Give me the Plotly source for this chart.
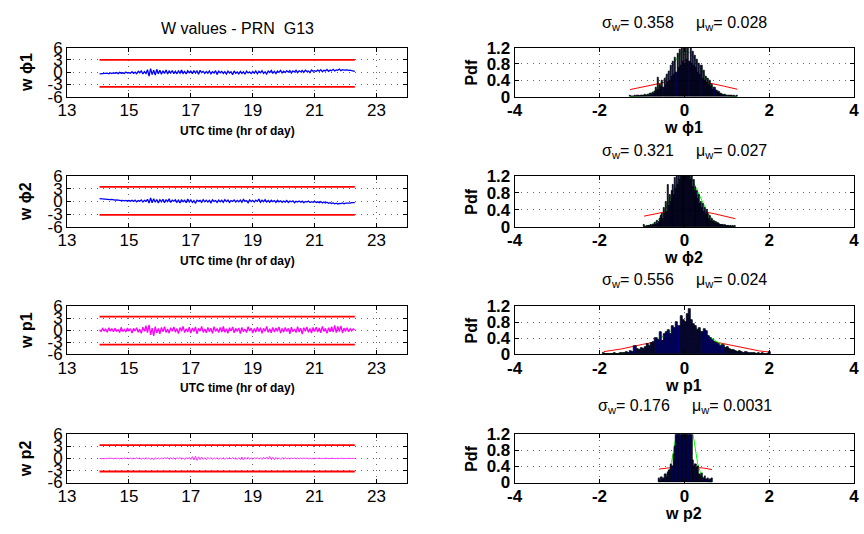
import numpy as np
import plotly.graph_objects as go

W, H = 864, 534

# ---------------- data ----------------
t_start, t_end = 14.05, 22.3   # UTC hour span of the series

w_phi1 = [-0.40,-0.35,-0.45,-0.30,-0.38,-0.25,-0.40,-0.20,-0.35,-0.15,
          -0.30,-0.10,-0.35,-0.05,-0.25,-0.15,-0.30,0.05,-0.20,-0.10,
          -0.25,0.10,-0.30,0.00,-0.40,0.20,-0.15,0.30,-0.45,0.15,
          -0.30,0.60,-0.95,0.85,-0.60,0.50,-0.70,0.70,-0.40,0.45,
          -0.50,0.35,-0.30,0.55,-0.45,0.30,-0.20,0.40,-0.35,0.25,
          -0.40,0.30,-0.25,0.50,-0.30,0.20,-0.45,0.35,-0.15,0.25,
          -0.35,0.40,-0.20,0.30,-0.50,0.45,-0.10,0.20,-0.30,0.15,
          -0.25,0.30,-0.40,0.10,-0.20,0.35,-0.55,0.25,-0.15,0.20,
          -0.30,0.15,-0.45,0.25,-0.20,0.10,-0.60,0.30,-0.25,0.05,
          -0.40,0.20,-0.30,0.10,-0.50,0.25,-0.20,0.05,-0.35,0.15,
          -0.25,0.30,-0.40,0.20,-0.15,0.35,-0.30,0.10,-0.45,0.25,
          -0.10,0.40,-0.25,0.20,-0.35,0.30,-0.05,0.45,-0.20,0.25,
          -0.10,0.35,0.00,0.40,-0.20,0.30,0.05,0.45,-0.10,0.35,
          0.10,0.40,-0.05,0.50,0.15,0.30,-0.10,0.55,0.20,0.35,
          0.15,0.50,0.25,0.60,0.10,0.45,0.30,0.65,0.20,0.50,
          0.35,0.70,0.30,0.55,0.45,0.75,0.35,0.60,0.50,0.55,
          0.55,0.45,0.50,0.35,0.30,0.20]

w_phi2 = [0.65,0.60,0.55,0.60,0.50,0.45,0.50,0.40,0.45,0.35,
          0.30,0.35,0.25,0.30,0.20,0.25,0.15,0.25,0.10,0.20,
          0.05,0.25,0.00,0.30,-0.10,0.20,0.05,0.35,-0.15,0.25,
          0.00,0.50,-0.40,0.80,-0.30,0.60,-0.20,0.45,-0.35,0.40,
          -0.10,0.50,-0.30,0.35,-0.05,0.60,-0.25,0.30,0.05,0.40,
          -0.20,0.30,-0.35,0.45,-0.10,0.25,-0.30,0.55,-0.15,0.35,
          -0.25,0.20,-0.45,0.30,0.05,0.25,-0.20,0.40,-0.10,0.30,
          -0.15,0.25,-0.30,0.35,0.00,0.20,-0.25,0.30,-0.10,0.25,
          -0.20,0.40,-0.05,0.30,-0.25,0.20,0.00,0.35,-0.15,0.25,
          -0.10,0.30,-0.20,0.45,0.00,0.20,-0.30,0.35,-0.05,0.25,
          -0.15,0.30,0.00,0.55,-0.20,0.25,-0.10,0.40,-0.15,0.20,
          -0.20,0.30,-0.05,0.20,-0.25,0.25,-0.10,0.15,-0.20,0.10,
          -0.15,0.20,-0.25,0.10,-0.10,0.15,-0.30,0.05,-0.15,0.10,
          -0.20,0.05,-0.30,0.00,-0.15,0.10,-0.25,-0.05,-0.20,0.00,
          -0.25,-0.10,-0.30,-0.05,-0.35,-0.15,-0.40,-0.20,-0.45,-0.30,
          -0.50,-0.35,-0.55,-0.40,-0.60,-0.45,-0.50,-0.35,-0.55,-0.40,
          -0.45,-0.35,-0.40,-0.30,-0.35,-0.30]

w_p1 = [0.10,-0.30,0.40,-0.20,0.25,-0.50,0.60,-0.10,0.30,-0.40,
        0.50,-0.25,0.15,-0.60,0.70,-0.35,0.20,-0.45,0.55,-0.15,
        0.35,-0.70,0.45,-0.20,0.60,-0.50,0.25,-0.80,0.75,-0.30,
        1.10,-0.60,1.30,-1.20,0.50,-1.40,0.90,-0.70,0.40,-0.90,
        0.70,-0.40,0.85,-0.55,0.30,-0.75,0.60,-0.25,0.80,-0.50,
        0.40,-0.85,0.65,-0.30,0.90,-0.60,0.35,-0.45,0.75,-0.70,
        0.55,-0.35,0.80,-0.90,0.45,-0.25,0.95,-0.55,0.30,-0.65,
        0.70,-0.40,0.50,-0.80,0.85,-0.30,0.40,-0.60,0.65,-0.45,
        0.90,-0.55,0.35,-0.75,0.60,-0.20,0.80,-0.65,0.45,-0.35,
        0.55,-0.85,0.70,-0.40,0.30,-0.60,0.85,-0.25,0.50,-0.70,
        0.40,-0.50,0.75,-0.35,0.60,-0.80,0.45,-0.30,0.90,-0.55,
        0.35,-0.65,0.70,-0.45,0.55,-0.30,0.80,-0.75,0.40,-0.50,
        0.65,-0.35,0.45,-0.90,0.75,-0.40,0.30,-0.60,0.85,-0.45,
        0.50,-1.00,0.60,-0.30,0.80,-0.55,0.40,-0.70,0.65,-0.35,
        0.75,-0.45,0.55,-0.65,0.90,-0.30,0.45,-0.80,0.60,-0.40,
        0.85,-0.50,1.20,-0.60,0.95,-0.35,1.05,-0.70,0.50,-0.30,
        0.60,-0.40,0.35,-0.20,0.30,0.10]

w_p2 = [0.00,-0.05,0.05,-0.08,0.04,-0.06,0.08,-0.04,0.06,-0.10,
        0.08,-0.06,0.10,-0.12,0.05,-0.08,0.12,-0.05,0.08,-0.10,
        0.10,-0.15,0.06,-0.12,0.15,-0.08,0.12,-0.20,0.10,-0.15,
        0.18,-0.12,0.15,-0.25,0.10,-0.35,0.20,-0.15,0.12,-0.20,
        0.15,-0.18,0.20,-0.10,0.25,-0.22,0.12,-0.15,0.18,-0.25,
        0.20,-0.15,0.25,-0.20,0.15,-0.28,0.22,-0.18,0.30,-0.25,
        0.45,-0.40,0.55,-0.50,0.40,-0.30,0.35,-0.25,0.20,-0.30,
        0.25,-0.15,0.20,-0.22,0.15,-0.12,0.18,-0.20,0.12,-0.15,
        0.15,-0.20,0.10,-0.12,0.18,-0.15,0.22,-0.18,0.12,-0.25,
        0.20,-0.30,0.35,-0.40,0.25,-0.20,0.30,-0.25,0.15,-0.20,
        0.20,-0.15,0.25,-0.20,0.18,-0.25,0.30,-0.15,0.35,-0.20,
        0.50,-0.30,0.30,-0.35,0.25,-0.20,0.15,-0.18,0.20,-0.12,
        0.15,-0.10,0.12,-0.15,0.10,-0.08,0.12,-0.10,0.08,-0.12,
        0.10,-0.08,0.12,-0.06,0.10,-0.12,0.08,-0.10,0.06,-0.08,
        0.06,-0.05,0.08,-0.06,0.05,-0.08,0.06,-0.04,0.05,-0.06,
        0.05,-0.04,0.06,-0.05,0.04,-0.06,0.05,-0.04,0.03,-0.05,
        0.04,-0.03,0.03,-0.02,0.02,0.00]

# threshold lines drawn on the time series panels
thr_upper = [3.0, 3.4, 3.35, 3.33]
thr_lower = [-3.6, -3.17, -3.58, -3.26]

# histogram (pdf) heights, bins spread evenly over [lo, hi]
pdf_phi1 = [0.04,0,0,0,0,0.02,0,0.03,0.02,0,0.03,0.04,0.02,0.03,0.05,0.04,0.03,0.06,0.04,0.08,
            0.05,0.10,0.08,0.12,0.22,0.15,0.46,0.18,0.30,0.25,
            0.40,0.22,0.45,0.30,0.55,0.35,0.62,0.40,0.75,0.50,
            0.85,0.55,0.95,0.60,1.05,0.70,1.15,0.75,1.20,0.85,
            1.25,0.80,1.25,0.90,1.20,0.85,1.25,0.80,1.10,0.75,
            1.00,0.70,0.90,0.60,0.80,0.55,0.75,0.45,0.65,0.40,
            0.50,0.35,0.45,0.30,0.40,0.25,0.30,0.18,0.22,0.15,
            0.15,0.10,0.12,0.08,0.08,0.05,0.06,0.04,0.05,0.03,
            0.03,0.02,0.04,0.02,0.03,0,0.02,0,0.01,0.04]
pdf_phi2 = [0.04,0,0,0.02,0,0.03,0.02,0.03,0.04,0.03,
            0.06,0.04,0.10,0.05,0.15,0.08,0.12,0.20,0.10,0.25,
            0.30,0.20,0.45,0.30,0.60,0.35,1.00,0.50,0.75,0.60,
            0.85,0.65,1.00,0.75,1.15,0.90,1.30,1.00,1.35,1.10,
            1.40,1.20,1.45,1.25,1.50,1.30,1.45,1.25,1.40,1.20,
            1.35,1.10,1.25,0.95,1.10,0.85,0.95,0.75,0.85,0.65,
            0.75,0.55,0.60,0.45,0.55,0.35,0.45,0.30,0.40,0.25,
            0.30,0.20,0.25,0.15,0.20,0.12,0.15,0.10,0.12,0.08,
            0.10,0.06,0.08,0.05,0.06,0.04,0.05,0.03,0.04,0.03,
            0.03,0.02,0.03,0,0.02,0.03,0,0.02,0,0.03]
pdf_p1 = [0.04,0,0,0,0,0.02,0,0,0.03,0.02,
          0.03,0.05,0.04,0.08,0.06,0.20,0.12,0.10,0.15,0.12,
          0.18,0.25,0.20,0.28,0.30,0.40,0.35,0.55,0.32,0.50,
          0.55,0.60,0.50,0.70,0.65,0.80,0.70,0.95,0.85,0.80,
          1.00,1.12,0.85,0.75,0.70,0.60,0.65,0.55,0.62,0.58,
          0.45,0.40,0.35,0.30,0.28,0.25,0.20,0.22,0.15,0.18,
          0.12,0.10,0.10,0.08,0.06,0.07,0.05,0.04,0.05,0.03,
          0.03,0.02,0.03,0,0.02,0,0.02,0,0,0.05]
pdf_p2 = [0.10,0.05,0.12,0.08,0.10,0.20,0.12,0.25,0.30,0.45,
          0.40,0.70,0.90,1.30,1.60,2.00,2.20,2.40,2.50,2.60,
          2.50,2.30,2.00,1.50,1.25,0.55,0.40,0.45,0.35,0.40,
          0.20,0.15,0.22,0.10,0.15,0.08,0.10,0.05,0.08,0.10]
hist_lo = [-1.28, -0.95, -1.9, -0.6]
hist_hi = [1.25, 1.2, 2.0, 0.65]

sigma_w = [0.358, 0.321, 0.556, 0.176]
mu_w = [0.028, 0.027, 0.024, 0.0031]
sigma_txt = ['0.358', '0.321', '0.556', '0.176']
mu_txt = ['0.028', '0.027', '0.024', '0.0031']

names = ['w \u03d51', 'w \u03d52', 'w p1', 'w p2']
series = [w_phi1, w_phi2, w_p1, w_p2]
pdfs = [pdf_phi1, pdf_phi2, pdf_p1, pdf_p2]
series_color = ['#0000ff', '#0000ff', '#ff00ff', '#ff33ff']
series_width = [1.3, 1.3, 1.3, 1.0]

time_ticks = [13, 15, 17, 19, 21, 23]
w_ticks = [-6, -3, 0, 3, 6]
pdf_xticks = [-4, -2, 0, 2, 4]
pdf_yticks = [0, 0.4, 0.8, 1.2]

# ---------------- layout geometry (pixels) ----------------
rows_px = [(40, 91), (173, 226), (308, 358), (441, 491)]
left_px = (59, 405)
right_px = (514, 859)
title_y_px = [15, 148, 281, 412]

FONT = 'Liberation Sans, Arial, Helvetica, sans-serif'

def fx(px):
    return px / W

def fy(py):
    return 1 - py / H

def lab(v):
    return '%g' % v

fig = go.Figure()
layout = dict(width=W, height=H, margin=dict(l=0, r=0, t=0, b=0),
              paper_bgcolor='white', plot_bgcolor='white', showlegend=False,
              font=dict(family=FONT, size=16, color='black'), bargap=0)
annotations = []

grid_common = dict(showgrid=True, gridcolor='#666666', griddash='1px,5px', gridwidth=1,
                   showline=True, linecolor='black', linewidth=1, mirror='ticks',
                   ticks='inside', ticklen=4, tickcolor='black', zeroline=False,
                   ticklabeloverflow='allow')

for r in range(4):
    top, bot = rows_px[r]
    ydom = [fy(bot), fy(top)]
    # ---- left: time series ----
    li = 1 + r
    xs = '' if li == 1 else str(li)
    t = np.linspace(t_start, t_end, len(series[r]))
    fig.add_trace(go.Scatter(x=[t_start, t_end], y=[thr_upper[r]] * 2, mode='lines',
                             line=dict(color='#ff0000', width=1.8), xaxis='x' + xs, yaxis='y' + xs))
    fig.add_trace(go.Scatter(x=[t_start, t_end], y=[thr_lower[r]] * 2, mode='lines',
                             line=dict(color='#ff0000', width=1.8), xaxis='x' + xs, yaxis='y' + xs))
    fig.add_trace(go.Scatter(x=t, y=series[r], mode='lines',
                             line=dict(color=series_color[r], width=series_width[r]),
                             xaxis='x' + xs, yaxis='y' + xs))
    layout['xaxis' + xs] = dict(domain=[fx(left_px[0]), fx(left_px[1])], anchor='y' + xs,
                                range=[13, 24], tickvals=time_ticks,
                                ticktext=[lab(v) for v in time_ticks],
                                tickfont=dict(size=17), ticklabelstandoff=-2, **grid_common)
    layout['yaxis' + xs] = dict(domain=ydom, anchor='x' + xs, range=[-6, 6], tickvals=w_ticks,
                                ticktext=[lab(v) for v in w_ticks], tickfont=dict(size=17),
                                ticklabelstandoff=0, **grid_common)
    annotations.append(dict(text='<b>%s</b>' % names[r], x=fx(17), y=(ydom[0] + ydom[1]) / 2,
                            xref='paper', yref='paper', textangle=-90, showarrow=False,
                            font=dict(size=16), xanchor='center', yanchor='middle'))
    if r < 3:
        annotations.append(dict(text='<b>UTC time (hr of day)</b>', x=fx(232), y=fy(bot + 35),
                                xref='paper', yref='paper', showarrow=False,
                                font=dict(size=12), xanchor='center', yanchor='middle'))

    # ---- right: pdf histogram ----
    bi = 5 + r
    oi = 9 + r
    bs, os_ = str(bi), str(oi)
    lo, hi = hist_lo[r], hist_hi[r]
    xc = np.linspace(lo, hi, len(pdfs[r]))
    step = (hi - lo) / (len(pdfs[r]) - 1)
    xg = np.linspace(lo, hi, 300)
    red = np.exp(-xg ** 2 / 2) / np.sqrt(2 * np.pi)
    green = np.exp(-(xg - mu_w[r]) ** 2 / (2 * sigma_w[r] ** 2)) / (sigma_w[r] * np.sqrt(2 * np.pi))
    fig.add_trace(go.Scatter(x=xg, y=red, mode='lines', line=dict(color='#ff0000', width=1),
                             xaxis='x' + bs, yaxis='y' + bs))
    fig.add_trace(go.Scatter(x=xg, y=green, mode='lines', line=dict(color='#00ff00', width=1),
                             xaxis='x' + bs, yaxis='y' + bs))
    fig.add_trace(go.Bar(x=xc, y=pdfs[r], width=step, marker=dict(color='#00007f',
                         line=dict(color='black', width=0.8)), xaxis='x' + os_, yaxis='y' + os_))
    layout['xaxis' + bs] = dict(domain=[fx(right_px[0]), fx(right_px[1])], anchor='y' + bs,
                                range=[-4, 4], tickvals=pdf_xticks,
                                ticktext=['<b>%s</b>' % lab(v) for v in pdf_xticks],
                                tickfont=dict(size=17), ticklabelstandoff=-2, **grid_common)
    layout['yaxis' + bs] = dict(domain=ydom, anchor='x' + bs, range=[0, 1.2], tickvals=pdf_yticks,
                                ticktext=['<b>%s</b>' % lab(v) for v in pdf_yticks],
                                tickfont=dict(size=17), ticklabelstandoff=0, **grid_common)
    layout['xaxis' + os_] = dict(overlaying='x' + bs, anchor='y' + os_, range=[-4, 4], visible=False)
    layout['yaxis' + os_] = dict(overlaying='y' + bs, anchor='x' + os_, range=[0, 1.2], visible=False)
    annotations.append(dict(text='<b>Pdf</b>', x=fx(470), y=(ydom[0] + ydom[1]) / 2,
                            xref='paper', yref='paper', textangle=-90, showarrow=False,
                            font=dict(size=16), xanchor='center', yanchor='middle'))
    annotations.append(dict(text='<b>%s</b>' % names[r], x=fx(686), y=fy(bot + 32),
                            xref='paper', yref='paper', showarrow=False,
                            font=dict(size=16), xanchor='center', yanchor='middle'))
    annotations.append(dict(text='\u03c3<sub>w</sub>= %s\u00a0\u00a0\u00a0\u00a0 \u03bc<sub>w</sub>= %s'
                            % (sigma_txt[r], mu_txt[r]),
                            x=fx(687), y=fy(title_y_px[r]), xref='paper', yref='paper',
                            showarrow=False, font=dict(size=16), xanchor='center', yanchor='middle'))

annotations.append(dict(text='W values - PRN\u00a0\u00a0G13', x=fx(232), y=fy(20), xref='paper',
                        yref='paper', showarrow=False, font=dict(size=16),
                        xanchor='center', yanchor='middle'))
layout['annotations'] = annotations
fig.update_layout(**layout)
fig.write_html('out.html')
